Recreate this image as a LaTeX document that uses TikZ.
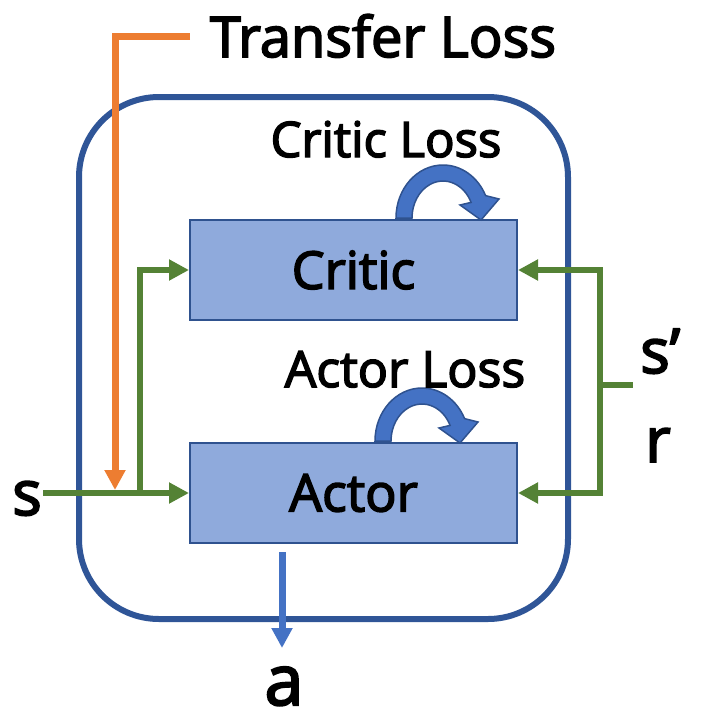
\documentclass[tikz,border=0pt]{standalone}
\usepackage{fontspec}
\setmainfont{Open Sans}[FakeBold=3]
\usetikzlibrary{arrows.meta}
\definecolor{outerblue}{HTML}{2F5597}
\definecolor{boxfill}{HTML}{8FAADC}
\definecolor{boxline}{HTML}{2F528F}
\definecolor{mygreen}{HTML}{548235}
\definecolor{myorange}{HTML}{ED7D31}
\definecolor{arrblue}{HTML}{4472C4}
\tikzset{
  fs/.style={font=\fontsize{#1}{#1}\selectfont},
  netbox/.style={draw=boxline, fill=boxfill, line width=2pt, minimum width=327pt,
    minimum height=100pt, inner sep=0pt, fs=52},
  lbl/.style={inner sep=0pt, anchor=base},
  gline/.style={draw=mygreen, line width=6pt},
  garr/.style={gline, -{Triangle[length=20pt,width=20pt]}},
  oarr/.style={draw=myorange, line width=7pt, -{Triangle[length=20pt,width=20pt]}},
  barr/.style={draw=arrblue, line width=7pt, -{Triangle[length=20pt,width=20pt]}},
  loop arrow/.pic={
    \filldraw[fill=arrblue, draw=boxline, line width=1.5pt, line join=miter]
      (-47,0) arc[start angle=180, end angle=335, x radius=47, y radius=53]
      -- (56,-19) -- (38,2) -- (17,-13) -- (28.1,-15.6)
      arc[start angle=335, end angle=180, x radius=31, y radius=37] -- cycle;
  }
}
\begin{document}
\begin{tikzpicture}[x=1pt, y=-1pt]
\useasboundingbox (0,0) rectangle (705,721);
% outer frame
\draw[outerblue, line width=6pt, rounded corners=80pt] (79,97) rectangle (568,619);
% boxes
\node[netbox] (critic) at (353.5,270) {Critic};
\node[netbox] (actor) at (353.5,493) {Actor};
% loop arrows
\pic at (443,218) {loop arrow};
\pic at (422,441) {loop arrow};
% labels
\node[lbl, fs=56] (tTransfer) at (383,57) {Transfer Loss};
\node[lbl, fs=49] (tCritLoss) at (386,157) {Critic Loss};
\node[lbl, fs=50] (tActLoss) at (405,387) {Actor Loss};
\node[lbl, fs=62] (tS) at (27,515) {s};
\node[lbl, fs=62, anchor=base west] (tSp) at (640,373) {s’};
\node[lbl, fs=62] (tR) at (658,462) {r};
\node[lbl, fs=70] (tA) at (284,705) {a};
% coordinates
\coordinate (sL) at (43,493);
\coordinate (br) at (140,493);
\coordinate (j) at (600,385);
\coordinate (jr) at (633,385);
\coordinate (tr) at (190,36);
\coordinate (tb) at (115,490);
\coordinate (aS) at (282,552);
\coordinate (aE) at (282,648);
% orange transfer loss
\draw[oarr] (tr) -| (tb);
% green inputs
\draw[garr] (sL) -- (actor.west);
\draw[garr] (br) |- (critic.west);
\draw[garr] (j) |- (critic.east);
\draw[garr] (j) |- (actor.east);
\draw[gline] (j) -- (jr);
% action
\draw[barr] (aS) -- (aE);
\end{tikzpicture}
\end{document}
